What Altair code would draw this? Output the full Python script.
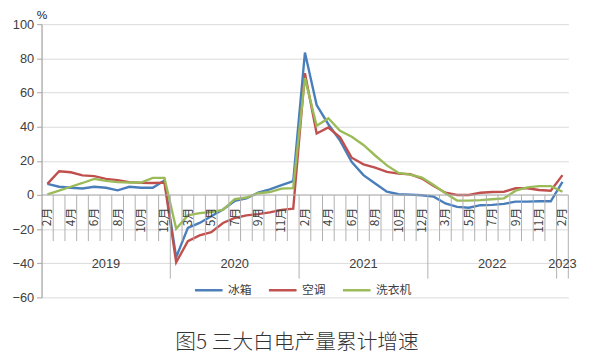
import altair as alt
import pandas as pd

# ---------------- data ----------------
series_names = ["冰箱", "空调", "洗衣机"]
series_colors = ["#4A7EBB", "#C0504D", "#9BBB59"]

year_labels = ["2019", "2020", "2021", "2022", "2023"]
year_months = [
    [2, 3, 4, 5, 6, 7, 8, 9, 10, 11, 12],
    [2, 3, 4, 5, 6, 7, 8, 9, 10, 11, 12],
    [2, 3, 4, 5, 6, 7, 8, 9, 10, 11, 12],
    [2, 3, 4, 5, 6, 7, 8, 9, 10, 11, 12],
    [2],
]

fridge = [6.5, 4.8, 4.2, 3.8, 4.8, 4.2, 2.7, 4.8, 4.2, 4.2, 8.5,
          -36.5, -19.3, -16.4, -12.5, -8.5, -3.5, -2.0, 1.3, 3.3, 5.8, 8.1,
          83.4, 52.6, 41.4, 31.8, 19.3, 11.6, 6.7, 1.9, 0.4, 0.2, -0.2,
          -1.0, -5.0, -7.0, -7.5, -6.0, -5.8, -5.2, -3.9, -3.9, -3.7, -3.7,
          7.7]
aircon = [6.5, 13.9, 13.3, 11.5, 11.0, 9.4, 8.7, 7.5, 7.1, 7.0, 7.2,
          -39.5, -27.0, -23.7, -21.8, -16.4, -13.5, -12.0, -11.2, -10.2, -8.7, -8.1,
          71.3, 36.0, 39.5, 33.7, 21.8, 17.9, 16.0, 13.5, 12.5, 12.1, 9.6,
          5.2, 1.3, 0.0, 0.0, 1.3, 1.7, 1.9, 3.9, 3.9, 2.9, 2.5,
          11.6]
washer = [0.4, 2.5, 4.8, 7.0, 9.4, 8.2, 7.5, 7.3, 7.3, 10.0, 10.0,
          -19.8, -12.0, -10.6, -10.0, -8.7, -2.5, -1.5, 1.0, 1.7, 3.7, 4.0,
          68.4, 40.5, 44.9, 37.6, 34.1, 29.3, 23.1, 17.3, 12.9, 11.9, 10.2,
          5.8, 1.0, -3.3, -3.3, -3.0, -2.5, -2.0, 2.5, 4.4, 5.2, 5.2,
          1.9]

y_ticks = [-60, -40, -20, 0, 20, 40, 60, 80, 100]
title_text = "图5 三大白电产量累计增速"

# ---------------- tables ----------------
months = []
year_start = []
for y, ms in zip(year_labels, year_months):
    year_start.append(len(months))
    for m in ms:
        months.append(f"{m}月")
n = len(months)

rows = []
for name, vals in zip(series_names, [fridge, aircon, washer]):
    for i, v in enumerate(vals):
        rows.append({"idx": i, "value": v, "series": name})
df = pd.DataFrame(rows)

label_df = pd.DataFrame([{"idx": i, "label": months[i], "value": 0} for i in range(0, n, 2)])

year_bounds = set(s - 0.5 for s in year_start[1:]) | {n - 0.5}
tick_rows = []
for k in range(1, n + 1):
    b = k - 0.5
    tick_rows.append({"b": b, "value": 0, "yb": -49 if b in year_bounds else -27})
tick_df = pd.DataFrame(tick_rows)

year_rows = []
for j, y in enumerate(year_labels):
    s = year_start[j]
    e = year_start[j + 1] if j + 1 < len(year_start) else n
    year_rows.append({"c": (s + e - 1) / 2, "year": y, "value": -40.6})
year_df = pd.DataFrame(year_rows)

zero_df = pd.DataFrame({"value": [0]})

# ---------------- chart ----------------
W, H = 534, 277
xs = alt.Scale(domain=[-0.5, n - 0.5], nice=False, zero=False)
ys = alt.Scale(domain=[-60, 100], nice=False)
NUM_FONT = "Liberation Sans"
CJK_FONT = "Noto Sans CJK SC"

y_axis = alt.Axis(
    values=y_ticks, grid=True, gridColor="#d9d9d9", gridWidth=1,
    domainColor="#a6a6a6", domainWidth=1.3, tickColor="#a6a6a6", tickSize=5,
    labelFontSize=13, labelColor="#404040", labelFont=NUM_FONT, labelPadding=3,
    title="%", titleAngle=0, titleX=0, titleY=-3, titleAlign="center",
    titleBaseline="bottom", titleFontWeight="normal", titleFontSize=12,
    titleFont=NUM_FONT, titleColor="#222222")

Y = alt.Y("value:Q", scale=ys, axis=y_axis)

lines = alt.Chart(df).mark_line(strokeWidth=2.4).encode(
    x=alt.X("idx:Q", scale=xs, axis=None),
    y=Y,
    color=alt.Color("series:N", scale=alt.Scale(domain=series_names, range=series_colors),
                    legend=alt.Legend(title=None, orient="none", legendX=154, legendY=254,
                                      direction="horizontal", symbolType="stroke",
                                      symbolStrokeWidth=2.5, symbolSize=784,
                                      labelFontSize=12, labelFont=CJK_FONT, labelColor="#404040",
                                      labelOffset=4, columnPadding=11)),
)

zero_rule = alt.Chart(zero_df).mark_rule(color="#b0b0b0", strokeWidth=1).encode(y=Y)

ticks = alt.Chart(tick_df).mark_rule(color="#b0b0b0", strokeWidth=1).encode(
    x=alt.X("b:Q", scale=xs, axis=None),
    y=Y,
    y2="yb:Q",
)

month_text = alt.Chart(label_df).mark_text(
    angle=270, align="right", baseline="middle", dx=-13, fontSize=12,
    font=CJK_FONT, color="#404040"
).encode(
    x=alt.X("idx:Q", scale=xs, axis=None),
    y=Y,
    text="label:N",
)

year_text = alt.Chart(year_df).mark_text(
    align="center", baseline="middle", fontSize=13, font=NUM_FONT, color="#404040"
).encode(
    x=alt.X("c:Q", scale=xs, axis=None),
    y=Y,
    text="year:N",
)

chart = alt.layer(lines, zero_rule, ticks, month_text, year_text).properties(
    width=W, height=H,
    title=alt.TitleParams(title_text, orient="bottom", anchor="middle", fontSize=21,
                          font=CJK_FONT, fontWeight=300, color="#333333",
                          offset=28, dx=-8),
    autosize=alt.AutoSizeParams(type="none"),
    padding={"left": 34, "top": 14, "right": 24, "bottom": 57},
    background="white",
).configure_view(stroke=None)

chart.save("out.html", embed_options={"renderer": "svg", "actions": False})
